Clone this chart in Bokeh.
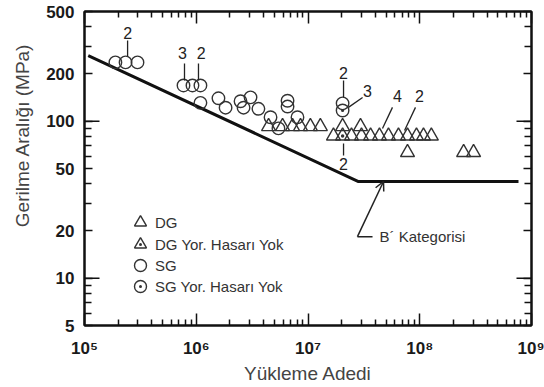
from math import pi
from bokeh.plotting import figure
from bokeh.models import (FixedTicker, LogAxis, Legend, LegendItem, Title,
                          Arrow, OpenHead)
from bokeh.core.properties import value
from bokeh.embed import file_html
from bokeh.resources import INLINE

FONT = "Liberation Sans"

# ---------------- data ----------------
# SG : open circles
sg_cycles = [1.89e5, 2.33e5, 2.98e5, 7.69e5, 9.25e5, 1.09e6, 1.09e6, 1.58e6, 1.83e6,
             2.49e6, 2.65e6, 3.06e6, 3.60e6, 4.62e6, 5.44e6, 6.56e6, 6.56e6, 8.05e6, 2.04e7]
sg_stress = [237, 237, 237, 169, 169, 169, 131, 140, 122,
             134, 122, 142, 120, 106, 90, 135, 124, 106, 130]
# SG Yor. Hasari Yok : circle with dot
sgd_cycles = [2.04e7]
sgd_stress = [117]
# DG : open triangles
dg_cycles = [4.44e6, 5.92e6, 7.27e6, 8.57e6, 1.05e7, 1.29e7, 2.04e7, 2.95e7,
             1.69e7, 2.45e7, 3.01e7, 3.63e7, 4.36e7, 5.25e7, 6.45e7, 7.77e7, 9.35e7, 1.08e8, 1.27e8,
             7.77e7, 2.47e8, 3.03e8]
dg_stress = [92.5, 92.5, 92.5, 92.5, 92.5, 92.5, 92.5, 92.5,
             80.5, 80.5, 80.5, 80.5, 80.5, 80.5, 80.5, 80.5, 80.5, 80.5, 80.5,
             63.2, 63.2, 63.2]
# DG Yor. Hasari Yok : triangle with dot
dgd_cycles = [2.04e7]
dgd_stress = [80.5]

# B' category design curve
curve_cycles = [1.08e5, 2.83e7, 7.65e8]
curve_stress = [262, 41.3, 41.3]

# multiplicity labels and their leader lines
count_text = ["2", "3", "2", "2", "3", "4", "2", "2"]
count_x = [2.43e5, 7.54e5, 1.11e6, 2.08e7, 3.40e7, 6.32e7, 9.95e7, 2.08e7]
count_y = [367, 274, 274, 204, 155, 144, 144, 53.8]
lead_x0 = [2.43e5, 7.85e5, 1.047e6, 2.08e7, 3.08e7, 5.70e7, 9.16e7, 2.08e7]
lead_y0 = [327, 233, 233, 182, 141.6, 122.5, 122.5, 72.1]
lead_x1 = [2.43e5, 7.85e5, 1.047e6, 2.08e7, 2.30e7, 4.64e7, 7.31e7, 2.08e7]
lead_y1 = [258, 182, 182, 142, 122.5, 90, 87.4, 60.5]

# category annotation
cat_text = ["B\u00b4 Kategorisi"]
cat_text_x = [4.37e7]
cat_text_y = [18.4]
cat_tail = (2.77e7, 18.4)
cat_tick_end = (3.78e7, 18.4)
cat_tip = (4.74e7, 41.3)

# legend entries
legend_labels = ["DG", "DG Yor. Hasarı Yok", "SG", "SG Yor. Hasarı Yok"]

x_major = [1e5, 1e6, 1e7, 1e8, 1e9]
x_labels = {100000: "10\u2075", 1000000: "10\u2076", 10000000: "10\u2077",
            100000000: "10\u2078", 1000000000: "10\u2079"}
x_minor = [m * d for d in [1e5, 1e6, 1e7, 1e8] for m in range(2, 10)]
y_major = [5, 10, 20, 50, 100, 200, 500]
y_minor = [6, 7, 8, 9, 30, 40, 60, 70, 80, 90, 300, 400]
y_long = [10, 100]

# ---------------- figure ----------------
p = figure(x_axis_type="log", y_axis_type="log", x_range=(1e5, 1e9), y_range=(5, 500),
           width=544, height=387, output_backend="svg", toolbar_location=None,
           min_border_left=84, min_border_right=13, min_border_top=11, min_border_bottom=62)
p.grid.visible = False
p.outline_line_color = "#111111"
p.outline_line_width = 2
p.background_fill_color = "white"
p.border_fill_color = "white"

def style_axis(ax, major_in, minor_in, labels=True, size="16px"):
    ax.axis_line_color = "#111111"
    ax.axis_line_width = 2
    ax.major_tick_line_color = "#111111"
    ax.minor_tick_line_color = "#111111"
    ax.major_tick_line_width = 1.5
    ax.minor_tick_line_width = 1.5
    ax.major_tick_in = major_in
    ax.major_tick_out = 0
    ax.minor_tick_in = minor_in
    ax.minor_tick_out = 0
    if labels:
        ax.major_label_text_font = FONT
        ax.major_label_text_font_style = "bold"
        ax.major_label_text_font_size = size
        ax.major_label_text_color = "#1a1a1a"
    else:
        ax.major_label_text_font_size = "1px"
        ax.major_label_text_alpha = 0
        ax.major_label_standoff = 0

xa = p.xaxis[0]
xa.ticker = FixedTicker(ticks=x_major, minor_ticks=x_minor)
style_axis(xa, 12, 6, size="17px")
xa.major_label_overrides = x_labels
xa.major_label_standoff = 13
xa.axis_label = "Yükleme Adedi"
xa.axis_label_text_font = FONT
xa.axis_label_text_font_style = "normal"
xa.axis_label_text_font_size = "19px"
xa.axis_label_text_color = "#444444"
xa.axis_label_standoff = 2

ya = p.yaxis[0]
ya.ticker = FixedTicker(ticks=y_major, minor_ticks=y_minor)
style_axis(ya, 8, 7, size="17px")
ya.major_label_overrides = {v: str(v) for v in y_major}
ya.major_label_standoff = 10

top = LogAxis(ticker=FixedTicker(ticks=x_major, minor_ticks=x_minor))
style_axis(top, 12, 6, labels=False)
p.add_layout(top, "above")
right = LogAxis(ticker=FixedTicker(ticks=y_major, minor_ticks=y_minor))
style_axis(right, 8, 7, labels=False)
p.add_layout(right, "right")

p.add_layout(Title(text="Gerilme Aralığı (MPa)", align="right", offset=32, standoff=18,
                   vertical_align="top",
                   text_font=FONT, text_font_size="19px", text_font_style="normal",
                   text_color="#444444"), "left")

# longer decade ticks on the stress axes
p.ray(x=[1e5] * len(y_long), y=y_long, length=15, length_units="screen", angle=0,
      line_color="#111111", line_width=1.5)
p.ray(x=[1e9] * len(y_long), y=y_long, length=15, length_units="screen", angle=pi,
      line_color="#111111", line_width=1.5)

# design curve
p.line(curve_cycles, curve_stress, line_color="#111111", line_width=3)

# data
mk = dict(line_color="#333333", line_width=1.4, fill_color=None)
r_dg = p.scatter(dg_cycles, dg_stress, marker="triangle", size=14, **mk)
r_dgd = p.scatter(dgd_cycles, dgd_stress, marker="triangle_dot", size=14, **mk)
r_sg = p.scatter(sg_cycles, sg_stress, marker="circle", size=12.5, **mk)
r_sgd = p.scatter(sgd_cycles, sgd_stress, marker="circle_dot", size=12.5, **mk)

# multiplicity labels
p.segment(x0=lead_x0, y0=lead_y0, x1=lead_x1, y1=lead_y1, line_color="#222222", line_width=1.3)
p.text(x=count_x, y=count_y, text=count_text, text_font=value(FONT),
       text_font_size=value("16px"), text_align="center", text_baseline="middle",
       text_color="#222222")

# category annotation
p.segment(x0=[cat_tail[0]], y0=[cat_tail[1]], x1=[cat_tick_end[0]], y1=[cat_tick_end[1]],
          line_color="#222222", line_width=1.5)
p.add_layout(Arrow(end=OpenHead(size=9, line_width=1.5, line_color="#222222"),
                   x_start=cat_tail[0], y_start=cat_tail[1],
                   x_end=cat_tip[0], y_end=cat_tip[1],
                   line_width=1.5, line_color="#222222"))
p.text(x=cat_text_x, y=cat_text_y, text=cat_text, text_font=value(FONT),
       text_font_size=value("15px"), text_align="left", text_baseline="middle",
       text_color="#333333")

# legend: one compact entry per row (rows 21 px apart, markers kept large)
row_offsets = [88, 66, 45, 24]
for lab, rend, yoff in zip(legend_labels, [r_dg, r_dgd, r_sg, r_sgd], row_offsets):
    lg = Legend(items=[LegendItem(label=lab, renderers=[rend])],
                location=(41, yoff), glyph_width=30, glyph_height=30, label_height=30,
                padding=0, margin=0, label_standoff=0,
                border_line_color=None, background_fill_alpha=0,
                label_text_font=FONT, label_text_font_size="15px",
                label_text_color="#333333")
    p.add_layout(lg)

open("out.html", "w").write(file_html(p, INLINE))
